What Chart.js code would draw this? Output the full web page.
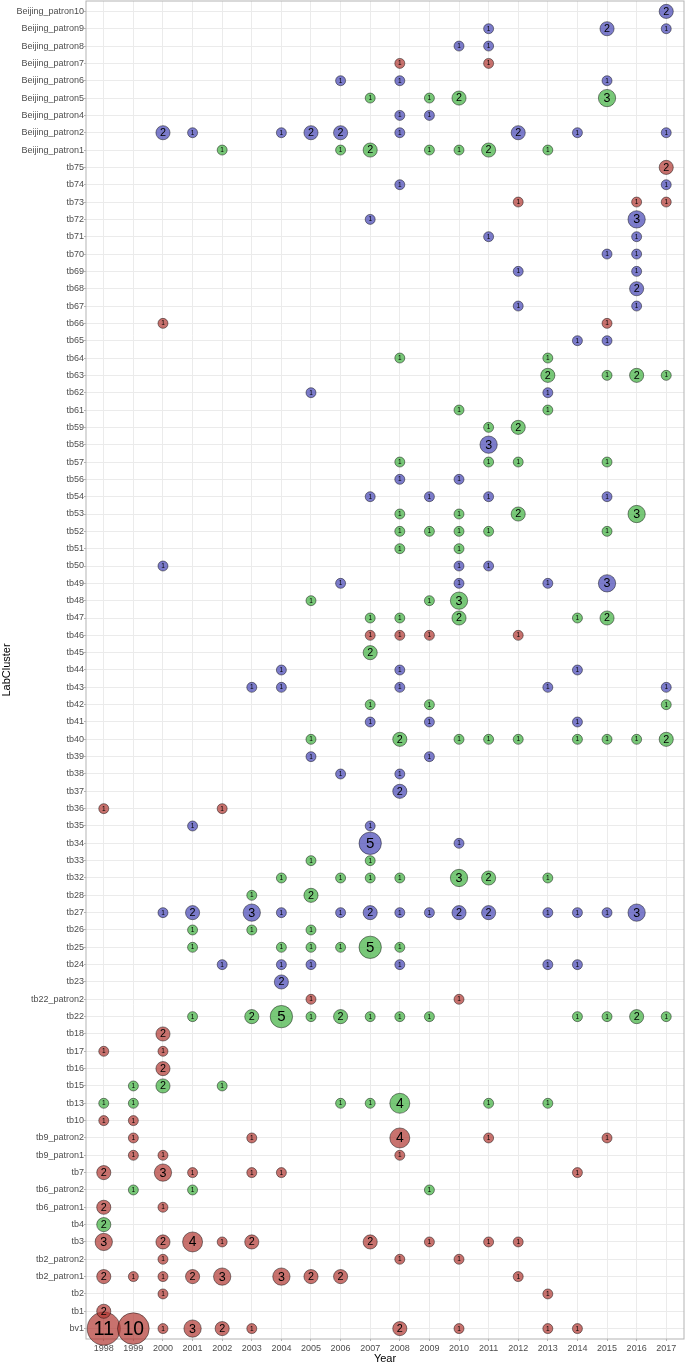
<!DOCTYPE html>
<html>
<head>
<meta charset="utf-8">
<script src="https://cdn.jsdelivr.net/npm/chart.js@4.4.0/dist/chart.umd.min.js"></script>
<style>
  html, body { margin: 0; padding: 0; background: #fff; }
  #wrap { width: 685px; height: 1366px; }
</style>
</head>
<body>
<div id="wrap"><canvas id="chart" width="685" height="1366"></canvas></div>
<script>
// x axis: one column per year
const years = [1998, 1999, 2000, 2001, 2002, 2003, 2004, 2005, 2006, 2007,
  2008, 2009, 2010, 2011, 2012, 2013, 2014, 2015, 2016, 2017];

// y axis, bottom to top
const clusters = ["bv1", "tb1", "tb2", "tb2_patron1", "tb2_patron2", "tb3", "tb4",
  "tb6_patron1", "tb6_patron2", "tb7", "tb9_patron1", "tb9_patron2", "tb10", "tb13",
  "tb15", "tb16", "tb17", "tb18", "tb22", "tb22_patron2", "tb23", "tb24", "tb25",
  "tb26", "tb27", "tb28", "tb32", "tb33", "tb34", "tb35", "tb36", "tb37", "tb38",
  "tb39", "tb40", "tb41", "tb42", "tb43", "tb44", "tb45", "tb46", "tb47", "tb48",
  "tb49", "tb50", "tb51", "tb52", "tb53", "tb54", "tb56", "tb57", "tb58", "tb59",
  "tb61", "tb62", "tb63", "tb64", "tb65", "tb66", "tb67", "tb68", "tb69", "tb70",
  "tb71", "tb72", "tb73", "tb74", "tb75", "Beijing_patron1", "Beijing_patron2",
  "Beijing_patron4", "Beijing_patron5", "Beijing_patron6", "Beijing_patron7",
  "Beijing_patron8", "Beijing_patron9", "Beijing_patron10"];

// [cluster, year, count]
const redCounts = [
  ["Beijing_patron7", 2008, 1], ["Beijing_patron7", 2011, 1],
  ["tb75", 2017, 2],
  ["tb73", 2012, 1], ["tb73", 2016, 1], ["tb73", 2017, 1],
  ["tb66", 2000, 1], ["tb66", 2015, 1],
  ["tb46", 2007, 1], ["tb46", 2008, 1], ["tb46", 2009, 1], ["tb46", 2012, 1],
  ["tb36", 1998, 1], ["tb36", 2002, 1],
  ["tb22_patron2", 2005, 1], ["tb22_patron2", 2010, 1],
  ["tb18", 2000, 2],
  ["tb17", 1998, 1], ["tb17", 2000, 1],
  ["tb16", 2000, 2],
  ["tb10", 1998, 1], ["tb10", 1999, 1],
  ["tb9_patron2", 1999, 1], ["tb9_patron2", 2003, 1], ["tb9_patron2", 2008, 4],
  ["tb9_patron2", 2011, 1], ["tb9_patron2", 2015, 1],
  ["tb9_patron1", 1999, 1], ["tb9_patron1", 2000, 1], ["tb9_patron1", 2008, 1],
  ["tb7", 1998, 2], ["tb7", 2000, 3], ["tb7", 2001, 1], ["tb7", 2003, 1],
  ["tb7", 2004, 1], ["tb7", 2014, 1],
  ["tb6_patron1", 1998, 2], ["tb6_patron1", 2000, 1],
  ["tb3", 1998, 3], ["tb3", 2000, 2], ["tb3", 2001, 4], ["tb3", 2002, 1],
  ["tb3", 2003, 2], ["tb3", 2007, 2], ["tb3", 2009, 1], ["tb3", 2011, 1], ["tb3", 2012, 1],
  ["tb2_patron2", 2000, 1], ["tb2_patron2", 2008, 1], ["tb2_patron2", 2010, 1],
  ["tb2_patron1", 1998, 2], ["tb2_patron1", 1999, 1], ["tb2_patron1", 2000, 1],
  ["tb2_patron1", 2001, 2], ["tb2_patron1", 2002, 3], ["tb2_patron1", 2004, 3],
  ["tb2_patron1", 2005, 2], ["tb2_patron1", 2006, 2], ["tb2_patron1", 2012, 1],
  ["tb2", 2000, 1], ["tb2", 2013, 1],
  ["bv1", 1998, 11], ["bv1", 1999, 10], ["bv1", 2000, 1], ["bv1", 2001, 3],
  ["bv1", 2002, 2], ["bv1", 2003, 1], ["bv1", 2008, 2], ["bv1", 2010, 1],
  ["bv1", 2013, 1], ["bv1", 2014, 1],
  ["tb1", 1998, 2],
];

const blueCounts = [
  ["Beijing_patron10", 2017, 2],
  ["Beijing_patron9", 2011, 1], ["Beijing_patron9", 2015, 2], ["Beijing_patron9", 2017, 1],
  ["Beijing_patron8", 2010, 1], ["Beijing_patron8", 2011, 1],
  ["Beijing_patron6", 2006, 1], ["Beijing_patron6", 2008, 1], ["Beijing_patron6", 2015, 1],
  ["Beijing_patron4", 2008, 1], ["Beijing_patron4", 2009, 1],
  ["Beijing_patron2", 2000, 2], ["Beijing_patron2", 2001, 1], ["Beijing_patron2", 2004, 1],
  ["Beijing_patron2", 2005, 2], ["Beijing_patron2", 2006, 2], ["Beijing_patron2", 2008, 1],
  ["Beijing_patron2", 2012, 2], ["Beijing_patron2", 2014, 1], ["Beijing_patron2", 2017, 1],
  ["tb74", 2008, 1], ["tb74", 2017, 1],
  ["tb72", 2007, 1], ["tb72", 2016, 3],
  ["tb71", 2011, 1], ["tb71", 2016, 1],
  ["tb70", 2015, 1], ["tb70", 2016, 1],
  ["tb69", 2012, 1], ["tb69", 2016, 1],
  ["tb68", 2016, 2],
  ["tb67", 2012, 1], ["tb67", 2016, 1],
  ["tb65", 2014, 1], ["tb65", 2015, 1],
  ["tb62", 2005, 1], ["tb62", 2013, 1],
  ["tb58", 2011, 3],
  ["tb56", 2008, 1], ["tb56", 2010, 1],
  ["tb54", 2007, 1], ["tb54", 2009, 1], ["tb54", 2011, 1], ["tb54", 2015, 1],
  ["tb50", 2000, 1], ["tb50", 2010, 1], ["tb50", 2011, 1],
  ["tb49", 2006, 1], ["tb49", 2010, 1], ["tb49", 2013, 1], ["tb49", 2015, 3],
  ["tb44", 2004, 1], ["tb44", 2008, 1], ["tb44", 2014, 1],
  ["tb43", 2003, 1], ["tb43", 2004, 1], ["tb43", 2008, 1], ["tb43", 2013, 1], ["tb43", 2017, 1],
  ["tb41", 2007, 1], ["tb41", 2009, 1], ["tb41", 2014, 1],
  ["tb39", 2005, 1], ["tb39", 2009, 1],
  ["tb38", 2006, 1], ["tb38", 2008, 1],
  ["tb37", 2008, 2],
  ["tb35", 2001, 1], ["tb35", 2007, 1],
  ["tb34", 2007, 5], ["tb34", 2010, 1],
  ["tb27", 2000, 1], ["tb27", 2001, 2], ["tb27", 2003, 3], ["tb27", 2004, 1],
  ["tb27", 2006, 1], ["tb27", 2007, 2], ["tb27", 2008, 1], ["tb27", 2009, 1],
  ["tb27", 2010, 2], ["tb27", 2011, 2], ["tb27", 2013, 1], ["tb27", 2014, 1],
  ["tb27", 2015, 1], ["tb27", 2016, 3],
  ["tb24", 2002, 1], ["tb24", 2004, 1], ["tb24", 2005, 1], ["tb24", 2008, 1],
  ["tb24", 2013, 1], ["tb24", 2014, 1],
  ["tb23", 2004, 2],
];

const greenCounts = [
  ["Beijing_patron5", 2007, 1], ["Beijing_patron5", 2009, 1], ["Beijing_patron5", 2010, 2],
  ["Beijing_patron5", 2015, 3],
  ["Beijing_patron1", 2002, 1], ["Beijing_patron1", 2006, 1], ["Beijing_patron1", 2007, 2],
  ["Beijing_patron1", 2009, 1], ["Beijing_patron1", 2010, 1], ["Beijing_patron1", 2011, 2],
  ["Beijing_patron1", 2013, 1],
  ["tb64", 2008, 1], ["tb64", 2013, 1],
  ["tb63", 2013, 2], ["tb63", 2015, 1], ["tb63", 2016, 2], ["tb63", 2017, 1],
  ["tb61", 2010, 1], ["tb61", 2013, 1],
  ["tb59", 2011, 1], ["tb59", 2012, 2],
  ["tb57", 2008, 1], ["tb57", 2011, 1], ["tb57", 2012, 1], ["tb57", 2015, 1],
  ["tb53", 2008, 1], ["tb53", 2010, 1], ["tb53", 2012, 2], ["tb53", 2016, 3],
  ["tb52", 2008, 1], ["tb52", 2009, 1], ["tb52", 2010, 1], ["tb52", 2011, 1], ["tb52", 2015, 1],
  ["tb51", 2008, 1], ["tb51", 2010, 1],
  ["tb48", 2005, 1], ["tb48", 2009, 1], ["tb48", 2010, 3],
  ["tb47", 2007, 1], ["tb47", 2008, 1], ["tb47", 2010, 2], ["tb47", 2014, 1], ["tb47", 2015, 2],
  ["tb45", 2007, 2],
  ["tb42", 2007, 1], ["tb42", 2009, 1], ["tb42", 2017, 1],
  ["tb40", 2005, 1], ["tb40", 2008, 2], ["tb40", 2010, 1], ["tb40", 2011, 1],
  ["tb40", 2012, 1], ["tb40", 2014, 1], ["tb40", 2015, 1], ["tb40", 2016, 1], ["tb40", 2017, 2],
  ["tb33", 2005, 1], ["tb33", 2007, 1],
  ["tb32", 2004, 1], ["tb32", 2006, 1], ["tb32", 2007, 1], ["tb32", 2008, 1],
  ["tb32", 2010, 3], ["tb32", 2011, 2], ["tb32", 2013, 1],
  ["tb28", 2003, 1], ["tb28", 2005, 2],
  ["tb26", 2001, 1], ["tb26", 2003, 1], ["tb26", 2005, 1],
  ["tb25", 2001, 1], ["tb25", 2004, 1], ["tb25", 2005, 1], ["tb25", 2006, 1],
  ["tb25", 2007, 5], ["tb25", 2008, 1],
  ["tb22", 2001, 1], ["tb22", 2003, 2], ["tb22", 2004, 5], ["tb22", 2005, 1],
  ["tb22", 2006, 2], ["tb22", 2007, 1], ["tb22", 2008, 1], ["tb22", 2009, 1],
  ["tb22", 2014, 1], ["tb22", 2015, 1], ["tb22", 2016, 2], ["tb22", 2017, 1],
  ["tb15", 1999, 1], ["tb15", 2000, 2], ["tb15", 2002, 1],
  ["tb13", 1998, 1], ["tb13", 1999, 1], ["tb13", 2006, 1], ["tb13", 2007, 1],
  ["tb13", 2008, 4], ["tb13", 2011, 1], ["tb13", 2013, 1],
  ["tb6_patron2", 1999, 1], ["tb6_patron2", 2001, 1], ["tb6_patron2", 2009, 1],
  ["tb4", 1998, 2],
];

const FONT = '"Liberation Sans", Arial, Helvetica, sans-serif';
Chart.defaults.font.family = FONT;

// bubbles may spill over the panel edge, don't pad the chart area for them
Chart.BubbleController.prototype.getMaxOverflow = () => 0;

const allCounts = [...redCounts, ...blueCounts, ...greenCounts].map((r) => r[2]);
const maxCount = Math.max(...allCounts);

const toPoints = (rows) =>
  rows.map(([cluster, year, n]) => ({ x: year, y: clusters.indexOf(cluster), n: n }));

const bubbleSet = (label, rows, fill) => ({
  label: label,
  data: toPoints(rows),
  backgroundColor: fill,
  borderColor: "rgba(0,0,0,0.75)",
  borderWidth: 0.6,
  hoverRadius: 0,
  radius: (c) => 5 * Math.sqrt(c.raw.n),
  clip: false,
});

// number inside each bubble, size grows with the count
const countLabels = {
  id: "countLabels",
  afterDatasetsDraw(chart) {
    const ctx = chart.ctx;
    ctx.save();
    ctx.fillStyle = "#000";
    ctx.textAlign = "center";
    ctx.textBaseline = "middle";
    chart.data.datasets.forEach((ds, i) => {
      chart.getDatasetMeta(i).data.forEach((pt, j) => {
        const n = ds.data[j].n;
        const size = 6.5 + 13.5 * Math.sqrt((n - 1) / (maxCount - 1));
        ctx.font = `${size.toFixed(1)}px ${FONT}`;
        ctx.fillText(String(n), pt.x, pt.y + size * 0.04);
      });
    });
    ctx.restore();
  },
};

// grey frame round the panel
const panelBorder = {
  id: "panelBorder",
  beforeDatasetsDraw(chart) {
    const { ctx, chartArea: a } = chart;
    ctx.save();
    ctx.strokeStyle = "#b3b3b3";
    ctx.lineWidth = 1;
    ctx.strokeRect(a.left, a.top, a.right - a.left, a.bottom - a.top);
    ctx.restore();
  },
};

new Chart(document.getElementById("chart"), {
  type: "bubble",
  data: {
    datasets: [
      bubbleSet("red", redCounts, "rgba(176,54,49,0.7)"),
      bubbleSet("blue", blueCounts, "rgba(69,69,181,0.7)"),
      bubbleSet("green", greenCounts, "rgba(62,176,62,0.7)"),
    ],
  },
  options: {
    responsive: false,
    animation: false,
    devicePixelRatio: 1,
    layout: { padding: { top: 1, right: 1, left: 0, bottom: 0 } },
    plugins: {
      legend: { display: false },
      tooltip: { enabled: false },
    },
    scales: {
      x: {
        type: "linear",
        min: years[0] - 0.6,
        max: years[years.length - 1] + 0.6,
        afterBuildTicks: (axis) => {
          axis.ticks = years.map((v) => ({ value: v }));
        },
        afterFit: (scale) => {
          scale.height = 27;
          scale.paddingLeft = 0;
          scale.paddingRight = 0;
        },
        ticks: {
          autoSkip: false,
          maxRotation: 0,
          padding: 2,
          color: "#4d4d4d",
          font: { size: 9 },
          callback: (v) => String(v),
        },
        grid: { color: "#ebebeb", lineWidth: 1, tickLength: 2, tickColor: "#b3b3b3" },
        border: { display: false },
        title: {
          display: true,
          text: "Year",
          color: "#000",
          font: { size: 11 },
          padding: { top: 0, bottom: 0 },
        },
      },
      y: {
        type: "linear",
        min: -0.6,
        max: clusters.length - 1 + 0.6,
        afterBuildTicks: (axis) => {
          axis.ticks = clusters.map((c, i) => ({ value: i }));
        },
        afterFit: (scale) => {
          scale.width = 86;
          scale.paddingTop = 0;
          scale.paddingBottom = 0;
        },
        ticks: {
          autoSkip: false,
          padding: 0,
          color: "#4d4d4d",
          font: { size: 9 },
          callback: (v) => clusters[v],
        },
        grid: { color: "#ebebeb", lineWidth: 1, tickLength: 2, tickColor: "#b3b3b3" },
        border: { display: false },
        title: {
          display: true,
          text: "LabCluster",
          color: "#000",
          font: { size: 11 },
          padding: { top: 0, bottom: 0 },
        },
      },
    },
  },
  plugins: [panelBorder, countLabels],
});
</script>
</body>
</html>
